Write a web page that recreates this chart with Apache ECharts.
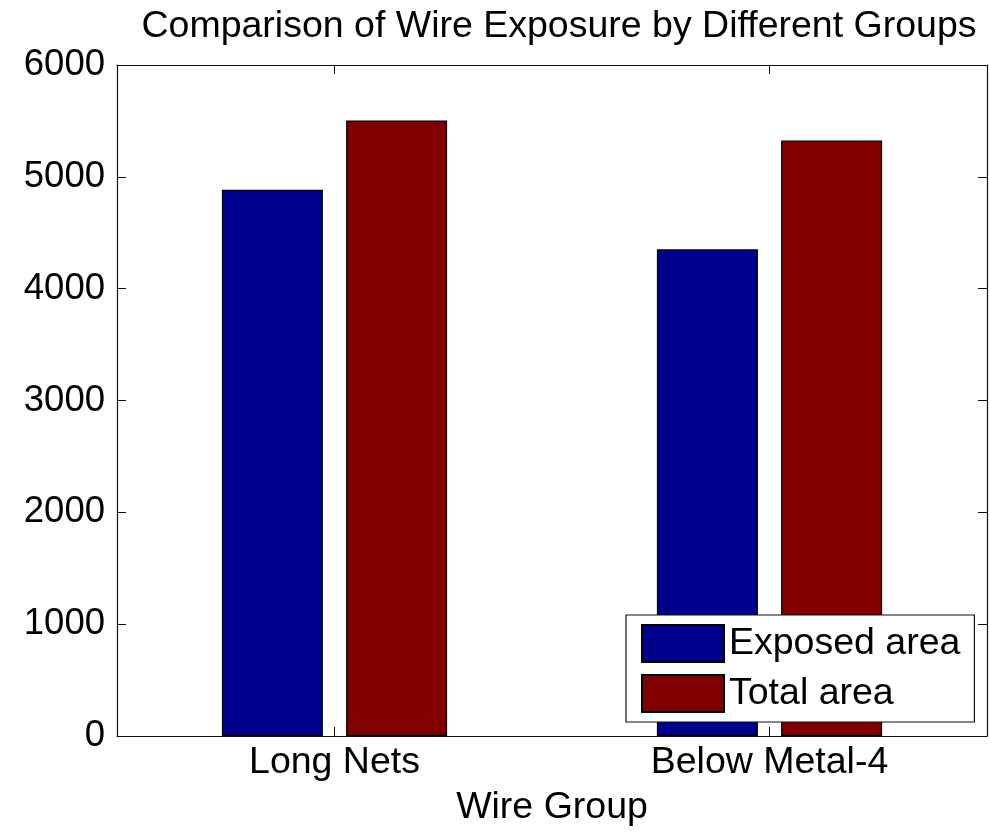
<!DOCTYPE html>
<html>
<head>
<meta charset="utf-8">
<script src="https://cdn.jsdelivr.net/npm/echarts@6/dist/echarts.min.js"></script>
<style>html,body{margin:0;padding:0;background:#fff}#c{width:990px;height:832px}</style>
</head>
<body>
<div id="c"></div>
<script>
var categories = ['Long Nets', 'Below Metal-4'];
var exposedArea = [4884, 4352];
var totalArea = [5504, 5324];
var yTicks = [0, 1000, 2000, 3000, 4000, 5000, 6000];

var FONT = '"Liberation Sans", Arial, sans-serif';
var FS = 37.5;
var chart = echarts.init(document.getElementById('c'), null, {renderer: 'canvas'});
function ticks(extra) {
  return Object.assign({show: true, inside: true, length: 9, lineStyle: {color: '#111', width: 1}}, extra || {});
}
var lineStyle = {show: true, onZero: false, lineStyle: {color: '#111', width: 1.2}};
chart.setOption({
  animation: false,
  backgroundColor: '#fff',
  title: {
    text: 'Comparison of Wire Exposure by Different Groups',
    left: 554, top: 3, textAlign: 'center',
    textStyle: {fontFamily: FONT, fontSize: FS, fontWeight: 'normal', color: '#000'}
  },
  grid: {left: 117, right: 3, top: 65, bottom: 90, containLabel: false},
  legend: {
    orient: 'vertical', left: 626, top: 615,
    padding: [9, 14, 9, 15], itemGap: 11, itemWidth: 82, itemHeight: 37,
    icon: 'rect',
    backgroundColor: '#fff', borderColor: '#111', borderWidth: 1.2,
    textStyle: {fontFamily: FONT, fontSize: FS, color: '#000', lineHeight: 38},
    data: ['Exposed area', 'Total area']
  },
  xAxis: [{
    type: 'category', data: categories, position: 'bottom',
    name: 'Wire Group', nameLocation: 'middle', nameGap: 53,
    nameTextStyle: {fontFamily: FONT, fontSize: FS, color: '#000'},
    axisLine: lineStyle, axisTick: ticks({alignWithLabel: true}),
    axisLabel: {fontFamily: FONT, fontSize: FS, color: '#000', margin: 8},
    splitLine: {show: false}
  }, {
    type: 'category', data: categories, position: 'top',
    axisLine: lineStyle, axisTick: ticks({alignWithLabel: true}),
    axisLabel: {show: false}, splitLine: {show: false}
  }],
  yAxis: [{
    type: 'value', min: yTicks[0], max: yTicks[yTicks.length - 1], interval: 1000, position: 'left',
    axisLine: lineStyle, axisTick: ticks(),
    axisLabel: {fontFamily: FONT, fontSize: 36.5, color: '#000', margin: 12,
      formatter: function (v) { return String(v); }},
    splitLine: {show: false}
  }, {
    type: 'value', min: yTicks[0], max: yTicks[yTicks.length - 1], interval: 1000, position: 'right',
    axisLine: lineStyle, axisTick: ticks(),
    axisLabel: {show: false}, splitLine: {show: false}
  }],
  series: [{
    name: 'Exposed area', type: 'bar', data: exposedArea,
    barWidth: 101, barGap: '23%',
    itemStyle: {color: '#00008f', borderColor: '#000', borderWidth: 1.2}
  }, {
    name: 'Total area', type: 'bar', data: totalArea,
    barWidth: 101, barGap: '23%',
    itemStyle: {color: '#800000', borderColor: '#000', borderWidth: 1.2}
  }]
});
</script>
</body>
</html>
